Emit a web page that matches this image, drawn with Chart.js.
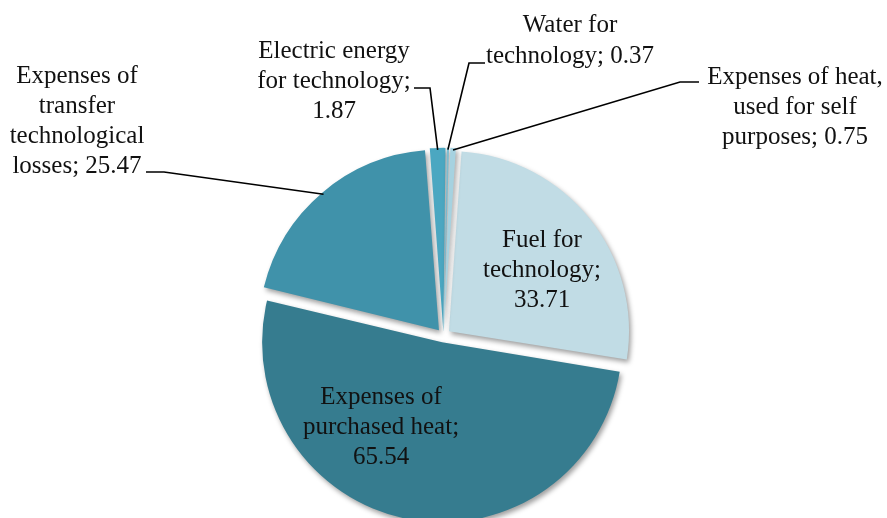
<!DOCTYPE html>
<html>
<head>
<meta charset="utf-8">
<script src="https://cdn.jsdelivr.net/npm/chart.js@4.4.0/dist/chart.umd.min.js"></script>
<style>
  html, body { margin: 0; padding: 0; background: #fff; }
  #wrap { width: 887px; height: 518px; position: relative; }
</style>
</head>
<body>
<div id="wrap"><canvas id="costPie"></canvas></div>
<script>
// dados do gráfico
const categories = [
  'Fuel for technology',
  'Expenses of purchased heat',
  'Expenses of transfer technological losses',
  'Electric energy for technology',
  'Water for technology',
  'Expenses of heat, used for self purposes',
];
const values = [33.71, 65.54, 25.47, 1.87, 0.37, 0.75];
// texto dos rótulos ({v} = valor)
const labelTexts = [
  'Fuel for\ntechnology;\n{v}',
  'Expenses of\npurchased heat;\n{v}',
  'Expenses of\ntransfer\ntechnological\nlosses; {v}',
  'Electric energy\nfor technology;\n{v}',
  'Water for\ntechnology; {v}',
  'Expenses of heat,\nused for self\npurposes; {v}',
];

// estilo / posições
const sliceColors = ['#c1dce5', '#367c8f', '#4092aa', '#4ba7c1', '#7fbfd3', '#a6d2e0'];
const sliceOffsets = [28, 28, 28, 16, 16, 16];
const labelLayout = [
  { x: 542, y: 240, gap: 30 },
  { x: 381, y: 397, gap: 30 },
  { x: 77, y: 76, gap: 30, line: [146, 172, 164, 172] },
  { x: 334, y: 51, gap: 30, line: [414, 88, 430, 88] },
  { x: 570, y: 25, gap: 31, line: [485, 63, 469, 63] },
  { x: 795, y: 77, gap: 30, line: [699, 82, 680, 82] },
];

function arcAnchor(el) {
  const { x, y, startAngle, endAngle, outerRadius, circumference } = el;
  const mid = (startAngle + endAngle) / 2;
  const t = (el.options.offset || 0) / 4;
  const fix = 1 - Math.sin(Math.min(Math.PI, circumference || 0));
  const r = outerRadius + t * fix + t - 2;
  return { x: x + Math.cos(mid) * r, y: y + Math.sin(mid) * r };
}

// sombra suave das fatias
const shadowPlugin = {
  id: 'sliceShadow',
  beforeDatasetsDraw(chart) {
    const ctx = chart.ctx;
    ctx.save();
    ctx.shadowColor = 'rgba(0,0,0,0.38)';
    ctx.shadowBlur = 5;
    ctx.shadowOffsetX = 2;
    ctx.shadowOffsetY = 3;
  },
  afterDatasetsDraw(chart) {
    chart.ctx.restore();
  },
};

// fatias grandes não devem crescer com o offset
const radiusFix = {
  id: 'radiusFix',
  afterDatasetUpdate(chart, args) {
    const meta = chart.getDatasetMeta(args.index);
    meta.data.forEach((el) => {
      const t = (el.options.offset || 0) / 4;
      const fix = 1 - Math.sin(Math.min(Math.PI, el.circumference || 0));
      if (el.circumference > Math.PI) el.outerRadius -= t * fix;
    });
  },
};

const labelPlugin = {
  id: 'pieLabels',
  afterDraw(chart) {
    const ctx = chart.ctx;
    const meta = chart.getDatasetMeta(0);
    ctx.save();
    ctx.font = '25px "Liberation Serif", "Times New Roman", serif';
    ctx.fillStyle = '#111';
    ctx.textAlign = 'center';
    ctx.textBaseline = 'middle';
    labelTexts.forEach((txt, i) => {
      const lay = labelLayout[i];
      const lines = txt.replace('{v}', values[i].toFixed(2)).split('\n');
      lines.forEach((ln, j) => ctx.fillText(ln, lay.x, lay.y + j * lay.gap));
      if (lay.line) {
        const a = arcAnchor(meta.data[i]);
        ctx.beginPath();
        ctx.strokeStyle = '#000';
        ctx.lineWidth = 1.6;
        ctx.moveTo(lay.line[0], lay.line[1]);
        ctx.lineTo(lay.line[2], lay.line[3]);
        ctx.lineTo(a.x, a.y);
        ctx.stroke();
      }
    });
    ctx.restore();
  },
};

new Chart(document.getElementById('costPie'), {
  type: 'pie',
  data: {
    labels: categories,
    datasets: [{
      data: values,
      backgroundColor: sliceColors,
      offset: sliceOffsets,
      borderWidth: 0,
      radius: 180,
    }],
  },
  options: {
    responsive: true,
    maintainAspectRatio: false,
    animation: false,
    rotation: 4,
    layout: { padding: { top: 153, left: 0, right: 0, bottom: 0 } },
    plugins: { legend: { display: false }, tooltip: { enabled: false } },
  },
  plugins: [shadowPlugin, radiusFix, labelPlugin],
});
</script>
</body>
</html>
